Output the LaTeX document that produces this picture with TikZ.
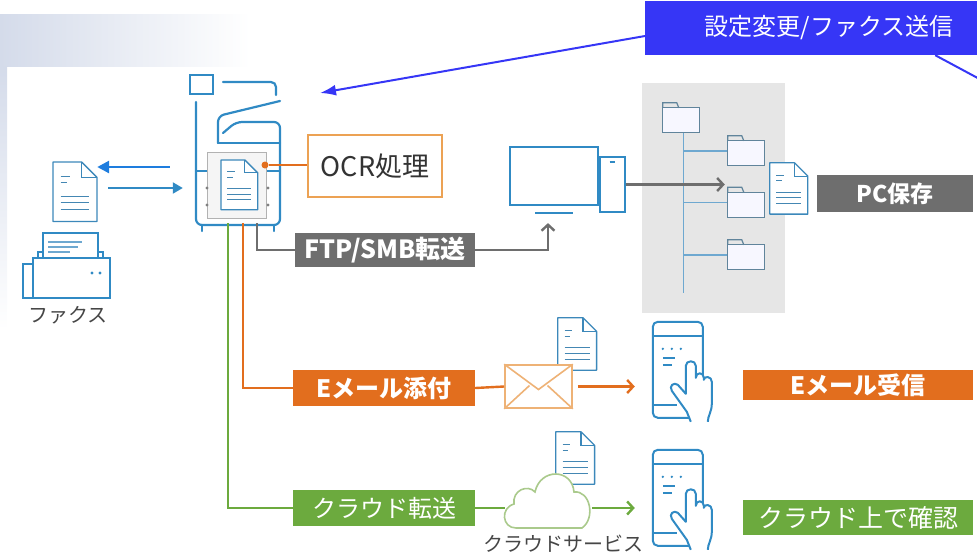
\documentclass[tikz,border=0pt]{standalone}
\usepackage{fontspec}
\setmainfont{Noto Sans CJK JP}
\usepackage{xcolor}
\usetikzlibrary{positioning, arrows.meta, calc}

\definecolor{iconblue}{RGB}{48,138,196}
\definecolor{faxblue}{RGB}{30,125,222}
\definecolor{cmdblue}{RGB}{54,54,246}
\definecolor{mailorange}{RGB}{226,110,30}
\definecolor{ocrline}{RGB}{236,162,84}
\definecolor{envline}{RGB}{238,178,118}
\definecolor{cloudgreen}{RGB}{108,170,62}
\definecolor{cloudline}{RGB}{170,202,140}
\definecolor{boxgray}{RGB}{110,110,110}
\definecolor{panelgray}{RGB}{230,230,230}
\definecolor{hazeblue}{RGB}{212,219,234}
\definecolor{textgray}{RGB}{70,70,70}
\definecolor{treeblue}{RGB}{110,168,208}

\tikzset{
  % sheet of paper with folded corner, 40x54
  paper/.pic={
    \draw[fill=white, line width=1.3pt, draw=iconblue!85!gray, line join=round]
      (0,0) -- (26,0) -- (40,14) -- (40,54) -- (0,54) -- cycle;
    \draw[line width=1.1pt, draw=iconblue!85!gray] (26,0) -- (26,14) -- (40,14);
    \draw[line width=1pt, draw=iconblue!75!gray]
      (7,13) -- (15,13) (7,19) -- (13,19) (7,31) -- (33,31) (7,37) -- (33,37) (7,43) -- (33,43);
  },
  % folder, 37x30
  folder/.pic={
    \draw[fill=blue!3, draw=gray!60!iconblue, line width=1.2pt] (0,5) rectangle (37,30);
    \draw[draw=gray!60!iconblue, line width=1.2pt] (0,5) -- (0,0) -- (14,0) -- (16,5);
  },
  % smartphone with pointing hand, 50x96
  phone/.pic={
    \draw[iconblue, line width=2pt, rounded corners=5pt, fill=white] (0,0) rectangle (50,96);
    \draw[iconblue, line width=1.8pt] (0,14) -- (50,14) (0,83) -- (24,83) (10,36) -- (22,36) (10,43) -- (19,43);
    \foreach \d in {10,19,28} \fill[iconblue] (\d,27) circle (1.3pt);
    \fill[white] (33,72) -- (33,44) .. controls (33,38) and (43,38) .. (43,44) -- (43,56)
      .. controls (43,50) and (51,50) .. (51,56) -- (51,58) .. controls (51,54) and (59,54) .. (59,60)
      -- (59,82) .. controls (59,90) and (55,94) .. (55,100) -- (38,100) -- (34,90) -- (19,69)
      .. controls (16,64) and (21,60) .. (25,63) -- cycle;
    \draw[iconblue, line width=2pt, line join=round] (38,100) -- (34,90) -- (19,69)
      .. controls (16,64) and (21,60) .. (25,63) -- (33,72) -- (33,44) .. controls (33,38) and (43,38) .. (43,44) -- (43,56)
      .. controls (43,50) and (51,50) .. (51,56) -- (51,58) .. controls (51,54) and (59,54) .. (59,60)
      -- (59,82) .. controls (59,90) and (55,94) .. (55,100);
  },
}

\begin{document}
\begin{tikzpicture}[x=1pt, y=-1pt,
  slot/.style={minimum width=#1, inner sep=0pt},
  tagbox/.style={fill=#1, text=white, inner sep=0pt, minimum width=182pt, minimum height=36pt},
  wire/.style={line width=2.4pt, #1},
  barb/.style={line width=2.4pt, #1, -{Straight Barb[length=6pt, width=13pt]}},
  big/.style={font=\fontsize{24}{28}\selectfont},
]
\useasboundingbox (0,0) rectangle (977,555);

% haze in the corner
\shade[left color=hazeblue, right color=white] (0,14) rectangle (250,66);
\shade[top color=hazeblue, bottom color=white] (0,66) rectangle (7,330);

% command callout
\node[fill=cmdblue, text=white, big, minimum width=368pt, minimum height=54pt, anchor=west] (cmd) at (645,28) {設定変更/ファクス送信};
\coordinate (mfptip) at (320,93);
\coordinate (offright) at (1000,90);
\draw[cmdblue, line width=2pt, -{Latex[length=16pt, width=11pt]}] ([yshift=-8pt]cmd.west) -- (mfptip);
\draw[cmdblue, line width=2pt] ([xshift=106pt]cmd.south) -- (offright);

% fax
\node[minimum width=44pt, minimum height=60pt, inner sep=0pt] (faxdoc) at (75,192) {};
\pic[scale=1.1] at (53,162) {paper};
\node[minimum width=87pt, minimum height=66pt, inner sep=0pt] (fax) at (66,265) {};
\draw[iconblue, line width=1.6pt, fill=white] (33,258) rectangle (110,298);
\draw[iconblue, line width=1.6pt, fill=white] (23,264) rectangle (33,298);
\draw[iconblue, line width=1.6pt, fill=white] (43,233) rectangle (98,258);
\draw[iconblue, line width=1.6pt] (38,258) -- (38,252) -- (43,252) (98,252) -- (103,252) -- (103,258);
\draw[treeblue, line width=1.4pt] (48,242) -- (82,242) (48,247) -- (78,247) (48,252) -- (70,252);
\fill[iconblue] (92,273) circle (1.6pt) (100,273) circle (1.6pt);
\node[text=textgray, font=\fontsize{20}{24}\selectfont] (faxlabel) at (68,315) {ファクス};

% multifunction printer
\node[minimum width=84pt, minimum height=149pt, inner sep=0pt] (mfp) at (238,148.5) {};
\begin{scope}[iconblue, line width=2.2pt, line cap=round]
  \draw (190,75) rectangle (213,94);
  \draw[rounded corners=5pt] (223,82) -- (276,82) -- (276,95);
  \draw[rounded corners=6pt] (218,143) -- (218,116) -- (280,101);
  \draw[rounded corners=6pt] (223,133) -- (236,122) -- (280,122) -- (280,225) -- (196,225) -- (196,102);
  \draw (218,143) -- (280,143);
  \draw (202,225) -- (202,231) (274,225) -- (274,231);
  \draw (196,171) -- (207,171) (266,171) -- (280,171);
\end{scope}
\draw[fill=gray!8, draw=gray!60, line width=1pt] (207,152) rectangle (266,218);
\fill[gray] (207,188) circle (1.6pt) (207,205) circle (1.6pt) (268,188) circle (1.6pt) (268,205) circle (1.6pt);
\pic[scale=0.92] at (221,160) {paper};

% fax in and out
\coordinate (sendA) at ($(mfp.west)+(0,18.5)$);
\coordinate (recvA) at ($(faxdoc.east)+(0,-4)$);
\draw[faxblue, line width=2.8pt, shorten <=26pt, -{Triangle[length=12pt, width=12pt]}] (sendA) -- (sendA -| faxdoc.east);
\draw[iconblue, line width=2pt, shorten <=11pt, shorten >=13pt, -{Triangle[length=10pt, width=11pt]}] (recvA) -- (recvA -| mfp.west);

% OCR
\node[draw=ocrline, line width=2pt, fill=white, minimum width=134pt, minimum height=62pt, text=black!80, font=\fontsize{27}{30}\selectfont] (ocr) at (375,166) {OCR処理};
\node[circle, fill=mailorange, minimum size=7pt, inner sep=0pt] (ocrdot) at (265,165) {};
\draw[mailorange, line width=1.8pt] (ocrdot) -- (ocr.west |- ocrdot);

% FTP/SMB to the PC
\node[fill=boxgray, text=white, font=\bfseries\fontsize{25}{28}\selectfont, minimum width=180pt, minimum height=34pt, inner sep=0pt] (ftp) at (385,250) {FTP/SMB転送};
\draw[wire=boxgray] ([xshift=19pt]mfp.south) |- (ftp.west);
\node[draw=iconblue, line width=2.2pt, minimum width=88pt, minimum height=58pt, inner sep=0pt] (monitor) at (554,176) {};
\draw[iconblue, line width=2.2pt] ([xshift=-19pt, yshift=-7pt]monitor.south) -- ([xshift=19pt, yshift=-7pt]monitor.south);
\node[draw=iconblue, line width=2.2pt, minimum width=25pt, minimum height=55pt, inner sep=0pt, anchor=south west, yshift=-7pt] (tower) at (monitor.south east) {};
\draw[iconblue, line width=2pt] ([xshift=-3pt, yshift=-6pt]tower.north) -- ([xshift=2pt, yshift=-6pt]tower.north);
\draw[barb=boxgray] (ftp.east) -| ([xshift=-6pt, yshift=-17pt]monitor.south);

% folders on the PC
\node[fill=panelgray, minimum width=143pt, minimum height=230pt, inner sep=0pt] (store) at (713.5,198) {};
\node[slot=37pt, minimum height=30pt] (ftop) at (681.5,118) {};
\node[slot=37pt, minimum height=30pt] (f1) at (746.5,151) {};
\node[slot=37pt, minimum height=30pt] (f2) at (746.5,202.5) {};
\node[slot=37pt, minimum height=30pt] (f3) at (746.5,255) {};
\draw[treeblue, line width=1.4pt] ([xshift=2pt]ftop.south) -- ++(0,160);
\foreach \f in {f1,f2,f3}
  \draw[treeblue, line width=1.4pt] ([xshift=2pt]ftop.south |- \f.west) -- (\f.west);
\foreach \f in {ftop,f1,f2,f3}
  \pic at (\f.north west) {folder};
\node[slot=38pt, minimum height=51pt] (pcdoc) at (789,188.5) {};
\pic[scale=0.95] at (pcdoc.north west) {paper};
\draw[barb=boxgray] (tower.east) -- ([xshift=-3pt]tower.east -| f2.west);
\node[fill=boxgray, text=white, font=\bfseries\fontsize{23}{26}\selectfont, minimum width=156pt, minimum height=37pt, inner sep=0pt] (pcsave) at (895,193.5) {PC保存};

% e-mail
\node[tagbox=mailorange, font=\bfseries\fontsize{24}{28}\selectfont] (attach) at (384,388) {Eメール添付};
\draw[wire=mailorange] ([xshift=5pt]mfp.south) |- (attach.west);
\node[slot=39pt, minimum height=52pt] (maildoc) at (577.5,344) {};
\pic[scale=0.97] at (maildoc.north west) {paper};
\node[draw=envline, line width=1.6pt, fill=white, minimum width=67pt, minimum height=43pt, inner sep=0pt] (mail) at (538.5,386.5) {};
\draw[envline, line width=1.6pt] (mail.north west) -- ([yshift=-3pt]mail.center) -- (mail.north east)
  (mail.south west) -- ([xshift=-9pt, yshift=1pt]mail.center) (mail.south east) -- ([xshift=9pt, yshift=1pt]mail.center);
\draw[wire=mailorange] (attach.east) -- (mail.west);
\node[slot=50pt, minimum height=96pt] (phone1) at (678,370) {};
\pic at (phone1.north west) {phone};
\draw[barb=mailorange, shorten <=5pt, shorten >=18pt] (mail.east) -- (phone1.west |- mail.east);
\node[fill=mailorange, text=white, font=\bfseries\fontsize{24}{28}\selectfont, minimum width=230pt, minimum height=30pt, inner sep=0pt] (recv) at (858,385) {Eメール受信};

% cloud
\node[tagbox=cloudgreen, big] (cloudsend) at (384,508) {クラウド転送};
\draw[wire=cloudgreen] ([xshift=-10pt]mfp.south) |- (cloudsend.west);
\node[slot=39pt, minimum height=52pt] (clouddoc) at (575.5,458) {};
\pic[scale=0.97] at (clouddoc.north west) {paper};
\node[slot=85pt, minimum height=58pt] (cloud) at (547.5,505) {};
\draw[cloudline, line width=1.6pt, fill=white]
  (516,528) .. controls (502,528) and (500,508) .. (514,504)
  .. controls (512,490) and (528,484) .. (535,492)
  .. controls (540,468) and (572,468) .. (574,492)
  .. controls (590,490) and (596,518) .. (582,528) -- cycle;
\draw[wire=cloudgreen] (cloudsend.east) -- (cloud.west |- cloudsend.east);
\node[slot=50pt, minimum height=98pt] (phone2) at (678,499) {};
\pic at (phone2.north west) {phone};
\draw[barb=cloudgreen, shorten <=2pt, shorten >=18pt] (cloud.east |- cloudsend.east) -- (phone2.west |- cloudsend.east);
\node[text=textgray, font=\fontsize{20}{24}\selectfont] (cloudlabel) at (563,544) {クラウドサービス};
\node[fill=cloudgreen, text=white, font=\fontsize{25}{28}\selectfont, minimum width=230pt, minimum height=35pt, inner sep=0pt] (check) at (858,517.5) {クラウド上で確認};
\end{tikzpicture}
\end{document}
